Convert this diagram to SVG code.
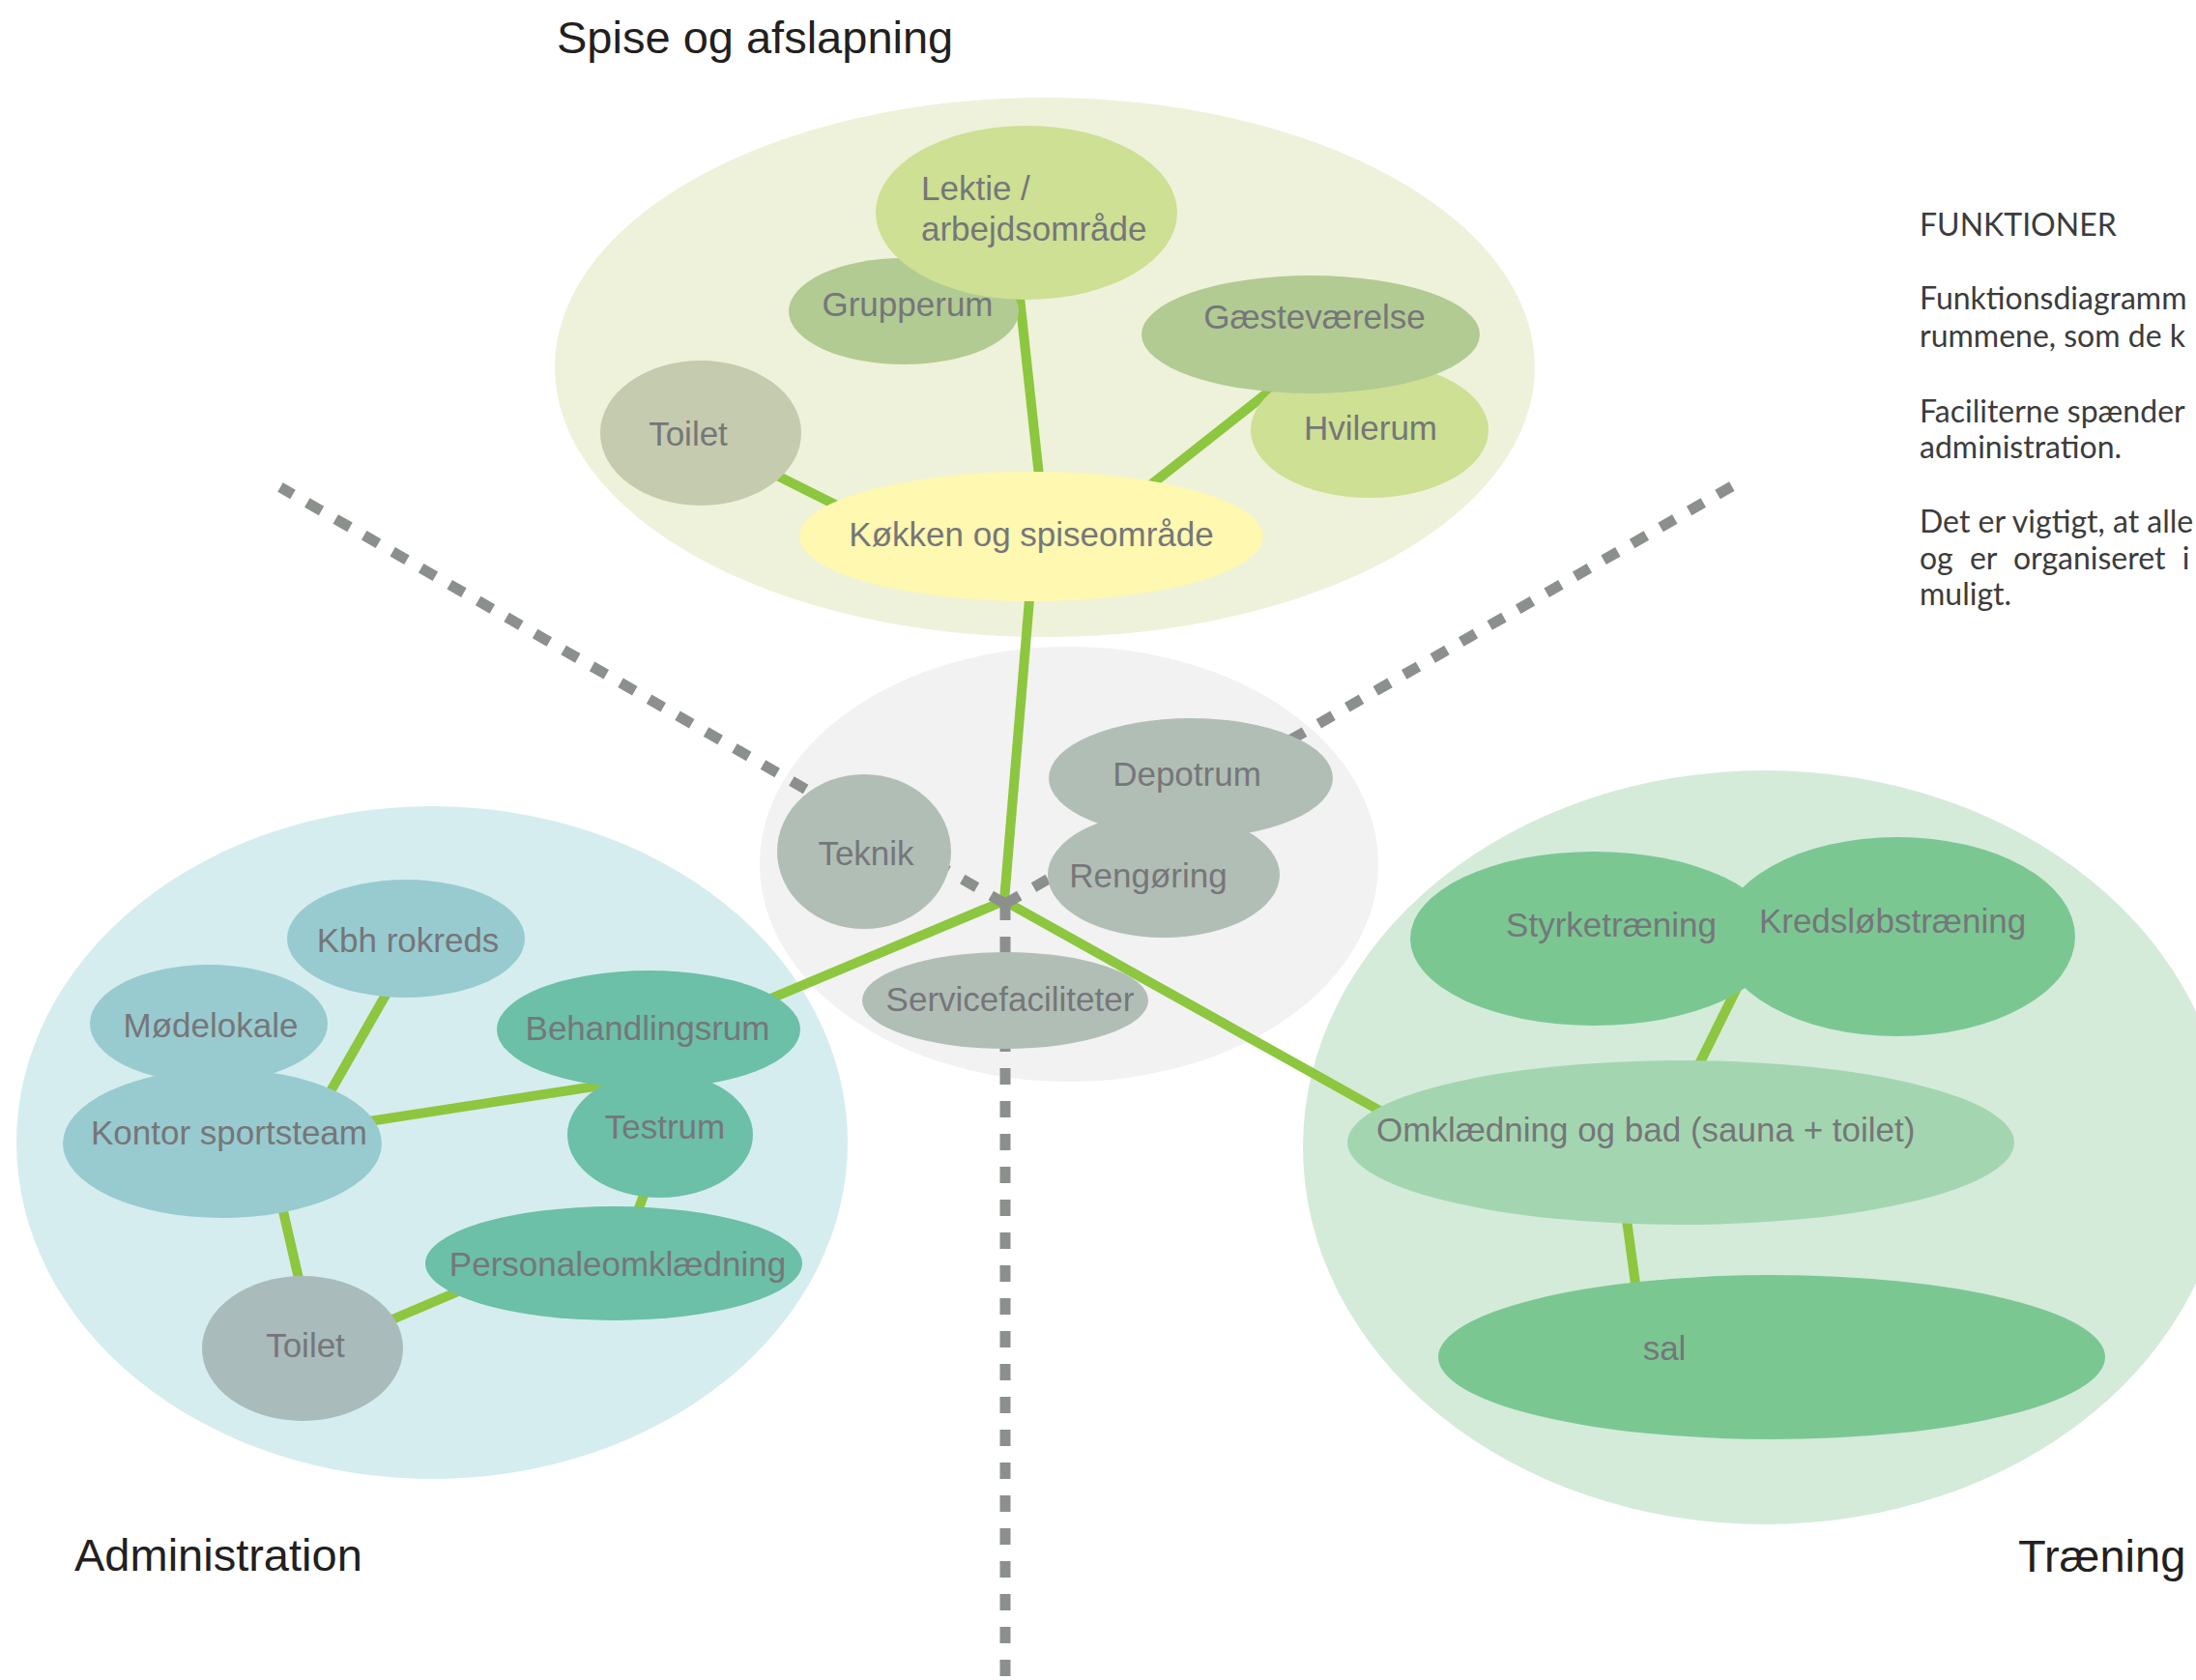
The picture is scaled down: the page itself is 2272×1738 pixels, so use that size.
<svg xmlns="http://www.w3.org/2000/svg" width="2272" height="1738" viewBox="0 0 2272 1738">
<style>
.lbl{font-family:"Liberation Sans",Arial,sans-serif;font-size:35px;fill:#76767a;text-anchor:middle}
.ttl{font-family:"Liberation Sans",Arial,sans-serif;font-size:47px;fill:#231f20}
.desc{font-family:Lato,"Open Sans",sans-serif;font-size:32px;fill:#3c3c3c}
.link{stroke:#8dc63f;stroke-width:10;fill:none}
.div{stroke:#8c908d;stroke-width:11;fill:none;stroke-dasharray:17 17}
.n-lektie{fill:#cde093}.n-grp{fill:#b1cb92}.n-toil1{fill:#c5cbae}.n-kok{fill:#fef8b0}
.n-srv{fill:#b1beb6}.n-adm{fill:#98cbcf}.n-beh{fill:#6bc0a7}.n-toil2{fill:#a9bbba}
.n-tr{fill:#7ac792}.n-omk{fill:#a3d6b0}
</style>
<rect width="2272" height="1738" fill="#ffffff"/>
<g id="zones">
<ellipse id="zone-spise" cx="1081" cy="380" rx="507" ry="279" fill="#eef2da"/>
<ellipse id="zone-service" cx="1106" cy="894" rx="320" ry="225" fill="#f2f2f2"/>
<ellipse id="zone-admin" cx="447" cy="1182" rx="430" ry="348" fill="#d6edef"/>
<ellipse id="zone-traening" cx="1826" cy="1187" rx="478" ry="390" fill="#d4ebda"/>
</g>
<g id="connectors">
<line class="link" x1="760" y1="470" x2="900" y2="540"/>
<line class="link" x1="1052" y1="280" x2="1078" y2="520"/>
<line class="link" x1="1327" y1="394" x2="1180" y2="510"/>
<line class="link" x1="1070" y1="560" x2="1039" y2="932"/>
<line class="link" x1="1039" y1="932" x2="740" y2="1057"/>
<line class="link" x1="1039" y1="932" x2="1460" y2="1167"/>
<line class="link" x1="410" y1="1010" x2="330" y2="1150"/>
<line class="link" x1="330" y1="1168" x2="680" y2="1114"/>
<line class="link" x1="290" y1="1240" x2="313" y2="1340"/>
<line class="link" x1="672" y1="1220" x2="650" y2="1280"/>
<line class="link" x1="380" y1="1376" x2="500" y2="1325"/>
<line class="link" x1="1800" y1="1016" x2="1748" y2="1121"/>
<line class="link" x1="1680" y1="1240" x2="1695" y2="1350"/>
</g>
<g id="dividers">
<line class="div" x1="1040" y1="935" x2="290" y2="504"/>
<line class="div" x1="1040" y1="935" x2="1792" y2="503"/>
<line class="div" x1="1040" y1="935" x2="1040" y2="1738"/>
</g>
<g id="node-grupperum"><ellipse class="n-grp" cx="935" cy="322" rx="119" ry="55"/><text class="lbl" x="939" y="327">Grupperum</text></g>
<g id="node-lektie"><ellipse class="n-lektie" cx="1062" cy="220" rx="156" ry="90"/><text class="lbl" style="text-anchor:start" x="953" y="207">Lektie /</text><text class="lbl" style="text-anchor:start" x="953" y="249">arbejdsområde</text></g>
<g id="node-hvilerum"><ellipse class="n-lektie" cx="1417" cy="445" rx="123" ry="70"/><text class="lbl" x="1418" y="455">Hvilerum</text></g>
<g id="node-gaestevaerelse"><ellipse class="n-grp" cx="1356" cy="346" rx="175" ry="61"/><text class="lbl" x="1360" y="340">Gæsteværelse</text></g>
<g id="node-toilet-spise"><ellipse class="n-toil1" cx="725" cy="448" rx="104" ry="75"/><text class="lbl" x="712" y="461">Toilet</text></g>
<g id="node-koekken"><ellipse class="n-kok" cx="1067" cy="555" rx="240" ry="67"/><text class="lbl" x="1067" y="565">Køkken og spiseområde</text></g>
<g id="node-teknik"><ellipse class="n-srv" cx="894" cy="881" rx="90" ry="80"/><text class="lbl" x="896" y="895">Teknik</text></g>
<g id="node-depotrum"><ellipse class="n-srv" cx="1232" cy="805" rx="147" ry="62"/><text class="lbl" x="1228" y="813">Depotrum</text></g>
<g id="node-rengoering"><ellipse class="n-srv" cx="1204" cy="905" rx="120" ry="65"/><text class="lbl" x="1188" y="918">Rengøring</text></g>
<g id="node-service"><ellipse class="n-srv" cx="1040" cy="1035" rx="148" ry="50"/><text class="lbl" x="1045" y="1046">Servicefaciliteter</text></g>
<g id="node-kbh"><ellipse class="n-adm" cx="420" cy="971" rx="123" ry="61"/><text class="lbl" x="422" y="985">Kbh rokreds</text></g>
<g id="node-moedelokale"><ellipse class="n-adm" cx="216" cy="1059" rx="123" ry="61"/><text class="lbl" x="218" y="1073">Mødelokale</text></g>
<g id="node-kontor"><ellipse class="n-adm" cx="230" cy="1183" rx="165" ry="77"/><text class="lbl" x="237" y="1184">Kontor sportsteam</text></g>
<g id="node-behandlingsrum"><ellipse class="n-beh" cx="671" cy="1065" rx="157" ry="61"/><text class="lbl" x="670" y="1076">Behandlingsrum</text></g>
<g id="node-testrum"><ellipse class="n-beh" cx="683" cy="1174" rx="96" ry="65"/><text class="lbl" x="688" y="1178">Testrum</text></g>
<g id="node-personale"><ellipse class="n-beh" cx="635" cy="1307" rx="195" ry="59"/><text class="lbl" x="639" y="1320">Personaleomklædning</text></g>
<g id="node-toilet-admin"><ellipse class="n-toil2" cx="313" cy="1395" rx="104" ry="75"/><text class="lbl" x="316" y="1404">Toilet</text></g>
<g id="node-styrke"><ellipse class="n-tr" cx="1649" cy="971" rx="190" ry="90"/><text class="lbl" x="1667" y="969">Styrketræning</text></g>
<g id="node-kredsloeb"><ellipse class="n-tr" cx="1963" cy="969" rx="184" ry="103"/><text class="lbl" x="1958" y="965">Kredsløbstræning</text></g>
<g id="node-omklaedning"><ellipse class="n-omk" cx="1739" cy="1182" rx="345" ry="85"/><text class="lbl" style="text-anchor:start" x="1424" y="1181">Omklædning og bad (sauna + toilet)</text></g>
<g id="node-sal"><ellipse class="n-tr" cx="1833" cy="1404" rx="345" ry="85"/><text class="lbl" x="1722" y="1407">sal</text></g>
<g id="titles">
<text class="ttl" x="576" y="55">Spise og afslapning</text>
<text class="ttl" x="77" y="1625">Administration</text>
<text class="ttl" x="2088" y="1626">Træning</text>
</g>
<g id="description">
<text class="desc" x="1986" y="244">FUNKTIONER</text>
<text class="desc" x="1986" y="320">Funktionsdiagramm</text>
<text class="desc" x="1986" y="359">rummene, som de k</text>
<text class="desc" x="1986" y="437">Faciliterne spænder</text>
<text class="desc" x="1986" y="474">administration.</text>
<text class="desc" x="1986" y="551">Det er vigtigt, at alle</text>
<text class="desc" x="1986" y="589" word-spacing="9">og er organiseret i</text>
<text class="desc" x="1986" y="626">muligt.</text>
</g>
</svg>
